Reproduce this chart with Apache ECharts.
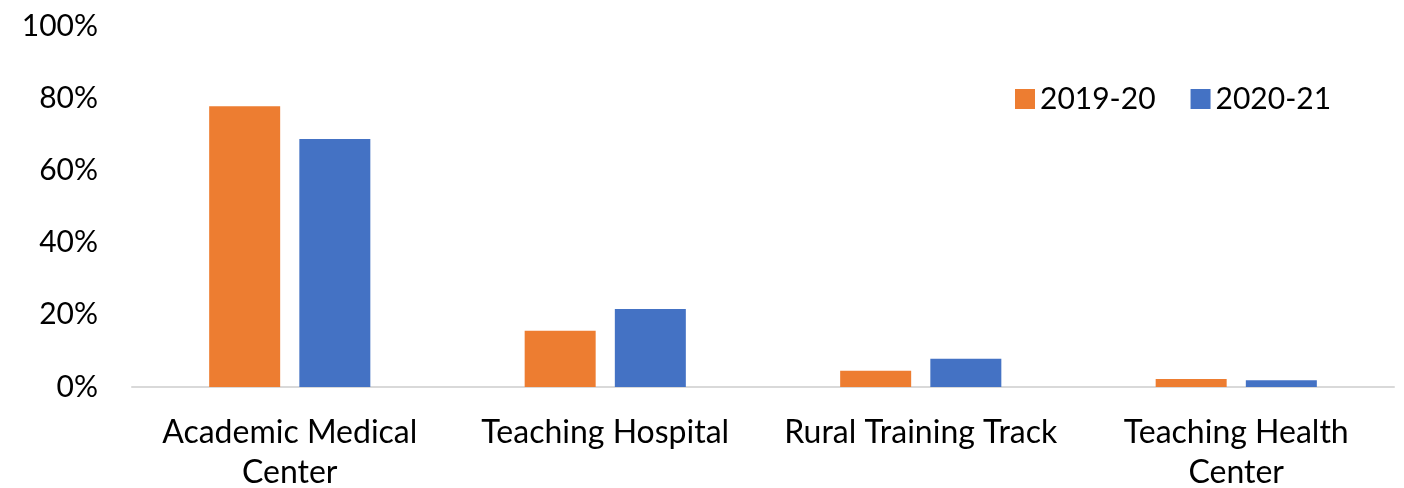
<!DOCTYPE html>
<html>
<head>
<meta charset="utf-8">
<script src="https://cdn.jsdelivr.net/npm/echarts@6/dist/echarts.min.js"></script>
<style>html,body{margin:0;padding:0;background:#fff;}#c{width:1404px;height:488px;}</style>
</head>
<body>
<div id="c"></div>
<script>
const categories = ["Academic Medical\nCenter", "Teaching Hospital", "Rural Training Track", "Teaching Health\nCenter"];
const seriesNames = ["2019-20", "2020-21"];
const values2019 = [77.8, 15.6, 4.5, 2.2];
const values2020 = [68.7, 21.6, 7.8, 1.9];
const yTicks = [0, 20, 40, 60, 80, 100];
const colors = ["#ED7D31", "#4472C4"];

const FONT = "Lato";
const chart = echarts.init(document.getElementById('c'), null, {renderer: 'canvas'});
chart.setOption({
  animation: false,
  textStyle: {fontFamily: FONT},
  grid: {left: 132, right: 10, top: 26, bottom: 101, containLabel: false, outerBoundsMode: 'none'},
  legend: {
    data: seriesNames,
    left: 1015, top: 84, padding: 0,
    itemWidth: 20, itemHeight: 20, itemGap: 35,
    icon: 'rect',
    textStyle: {fontSize: 30, color: '#000', fontFamily: FONT, padding: [0, 0, 0, 0]}
  },
  xAxis: {
    type: 'category',
    data: categories,
    axisLine: {lineStyle: {color: '#D9D9D9', width: 2}},
    axisTick: {show: false},
    axisLabel: {fontSize: 32, color: '#000', fontFamily: FONT, margin: 26, lineHeight: 40, interval: 0}
  },
  yAxis: {
    type: 'value',
    min: 0, max: 100, interval: 20,
    splitLine: {show: false},
    axisLine: {show: false},
    axisTick: {show: false},
    axisLabel: {fontSize: 30, color: '#000', fontFamily: FONT, margin: 34,
      formatter: v => yTicks.includes(v) ? v + '%' : ''}
  },
  series: [
    {name: seriesNames[0], type: 'bar', data: values2019, barWidth: 71, barGap: '27%',
      itemStyle: {color: colors[0]}},
    {name: seriesNames[1], type: 'bar', data: values2020, barWidth: 71, barGap: '27%',
      itemStyle: {color: colors[1]}}
  ]
});
</script>
</body>
</html>
